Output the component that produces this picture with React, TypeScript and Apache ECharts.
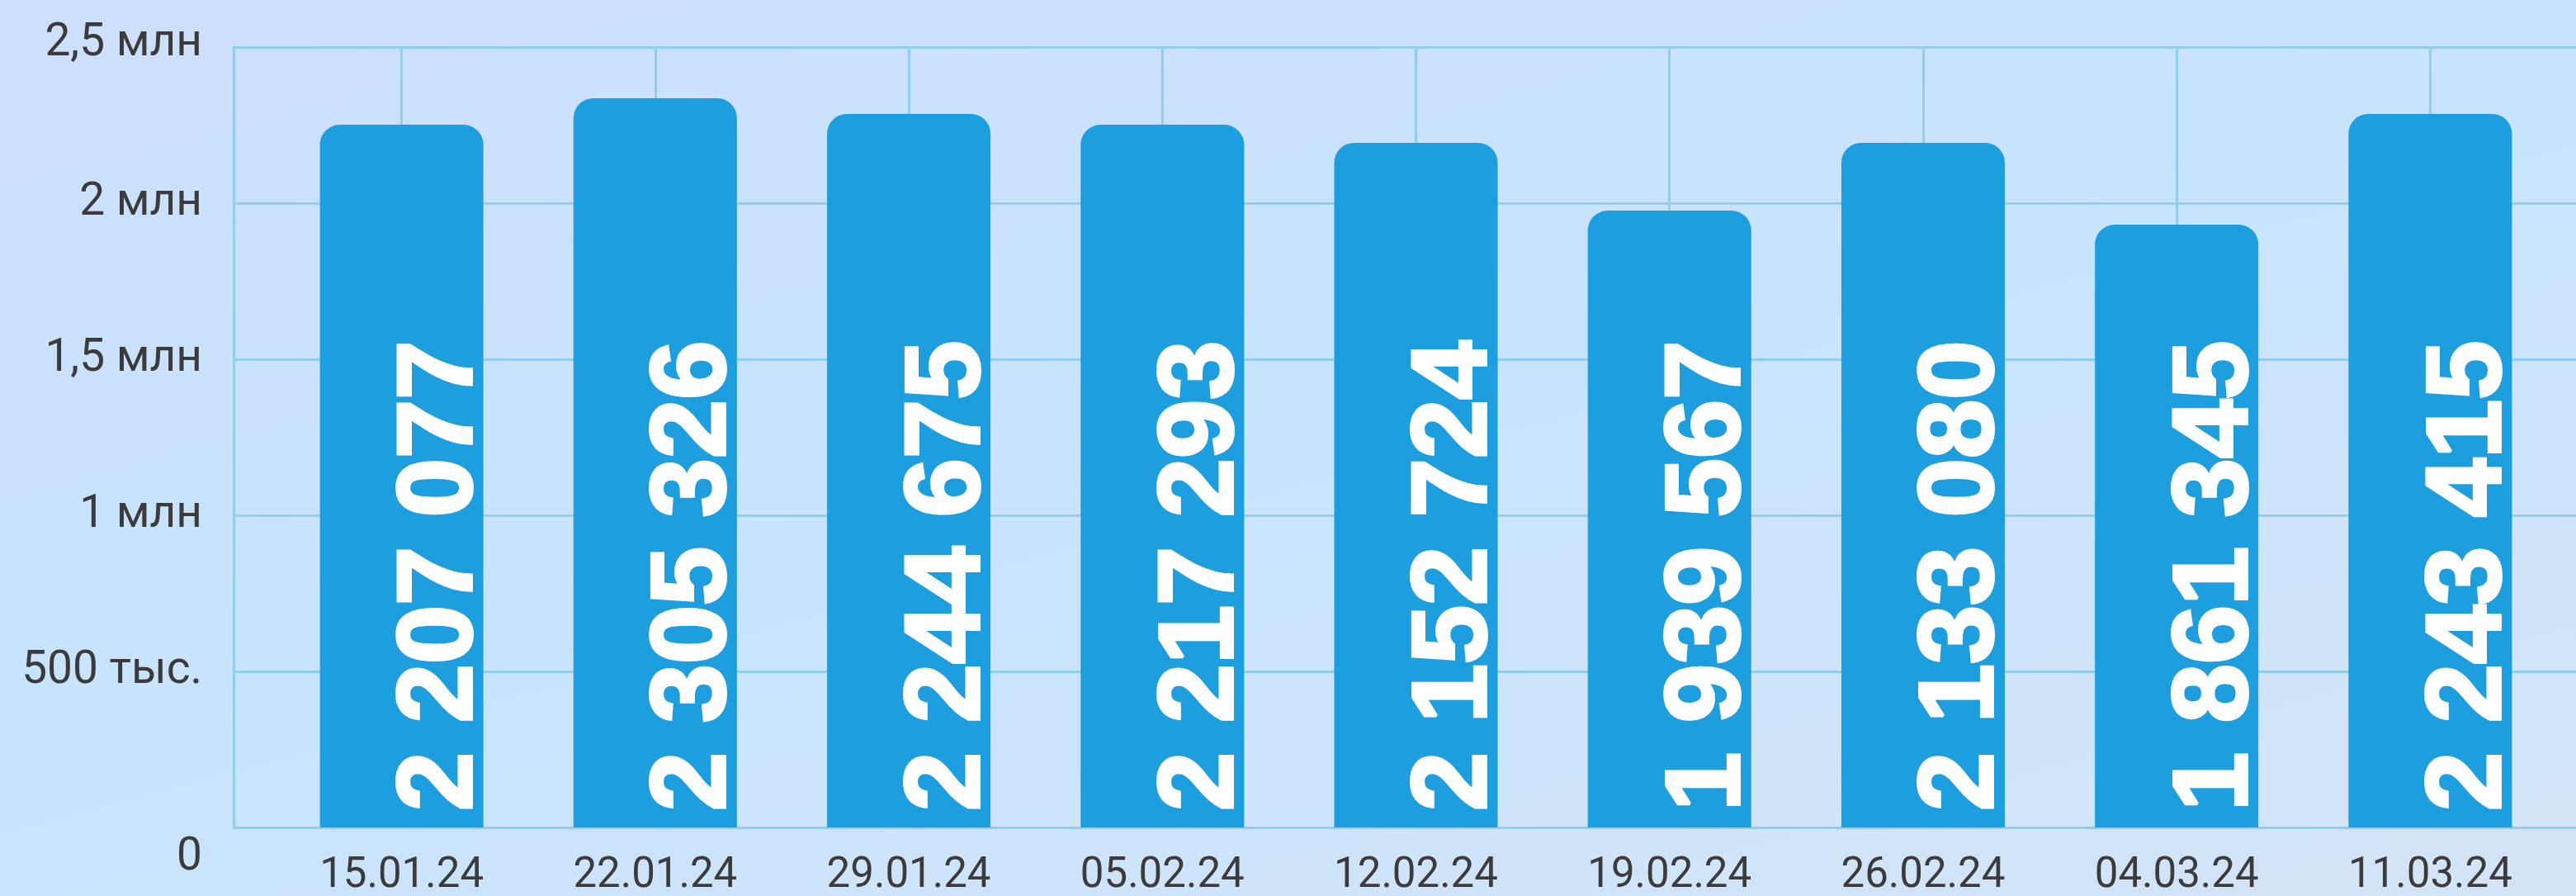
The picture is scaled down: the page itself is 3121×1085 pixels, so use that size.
import React, { useEffect, useRef } from "react";
import * as echarts from "echarts";

const categories = ["15.01.24", "22.01.24", "29.01.24", "05.02.24", "12.02.24", "19.02.24", "26.02.24", "04.03.24", "11.03.24"];
// bar heights
const barValues = [2251000, 2336000, 2286000, 2251000, 2193000, 1976000, 2193000, 1931000, 2286000];
// numbers printed on the bars
const labelValues = [2207077, 2305326, 2244675, 2217293, 2152724, 1939567, 2133080, 1861345, 2243415];
const yMax = 2500000;
const yInterval = 500000;
const yTickLabels: Record<number, string> = {
  0: "0",
  500000: "500 тыс.",
  1000000: "1 млн",
  1500000: "1,5 млн",
  2000000: "2 млн",
  2500000: "2,5 млн",
};

const W = 3121;
const H = 1085;
const FRAME_LEFT = 283;
const TOP = 57;
const BOTTOM = 83;
const BAR_LEFT = 333;
const BAR_RIGHT = 23;

const fmt = (n: number) => String(n).replace(/\B(?=(\d{3})+(?!\d))/g, " ");

export default function App() {
  const ref = useRef<HTMLDivElement>(null);
  useEffect(() => {
    if (!ref.current) return;
    const chart = echarts.init(ref.current, undefined, { renderer: "svg" });
    const band = (W - BAR_LEFT - BAR_RIGHT) / categories.length;
    const gridColor = "#90cdf0";
    const textColor = "#3b3b3b";
    const yFont = 55;
    chart.setOption({
      animation: false,
      backgroundColor: "transparent",
      grid: [
        { left: FRAME_LEFT, right: 0, top: TOP, bottom: BOTTOM },
        { left: BAR_LEFT, right: BAR_RIGHT, top: TOP, bottom: BOTTOM },
        { left: BAR_LEFT + band / 2, right: BAR_RIGHT + band / 2, top: TOP, bottom: BOTTOM },
      ],
      xAxis: [
        { type: "value", gridIndex: 0, show: false },
        {
          type: "category",
          gridIndex: 1,
          data: categories,
          axisLine: { show: false },
          axisTick: { show: false },
          splitLine: { show: false },
          axisLabel: {
            margin: 32,
            lineHeight: 44,
            color: textColor,
            fontSize: 51,
            fontFamily: "Roboto",
          },
        },
        {
          type: "value",
          gridIndex: 2,
          min: 0,
          max: categories.length - 1,
          interval: 1,
          axisLine: { show: false },
          axisTick: { show: false },
          axisLabel: { show: false },
          splitLine: { show: true, lineStyle: { color: gridColor, width: 3 } },
        },
      ],
      yAxis: [
        {
          type: "value",
          gridIndex: 0,
          min: 0,
          max: yMax,
          interval: yInterval,
          axisLine: { show: true, lineStyle: { color: gridColor, width: 3 } },
          axisTick: { show: false },
          splitLine: { show: true, lineStyle: { color: gridColor, width: 3 } },
          axisLabel: {
            margin: 38,
            color: textColor,
            fontSize: yFont,
            fontFamily: "Roboto",
            formatter: (v: number) => {
              const t = yTickLabels[v] ?? String(v);
              if (v === 0) return "{b|" + t + "}";
              if (v === yMax) return "{t|" + t + "}";
              return "{m|" + t + "}";
            },
            rich: {
              b: { fontSize: yFont, fontFamily: "Roboto", color: textColor, padding: [64, 0, 0, 0] },
              t: { fontSize: yFont, fontFamily: "Roboto", color: textColor, padding: [0, 0, 19, 0] },
              m: { fontSize: yFont, fontFamily: "Roboto", color: textColor, padding: [0, 0, 10, 0] },
            },
          },
        },
        { type: "value", gridIndex: 1, min: 0, max: yMax, interval: yInterval, show: false },
        { type: "value", gridIndex: 2, min: 0, max: 1, show: false },
      ],
      series: [
        {
          type: "bar",
          xAxisIndex: 1,
          yAxisIndex: 1,
          data: barValues,
          barWidth: 198,
          z: 3,
          itemStyle: { color: "#1c9edf", borderRadius: [24, 24, 0, 0] },
          label: {
            show: true,
            position: "insideBottom",
            rotate: 90,
            align: "left",
            verticalAlign: "middle",
            distance: 20,
            offset: [0, 40],
            color: "#ffffff",
            textBorderColor: "#ffffff",
            textBorderWidth: 4,
            fontSize: 128,
            fontWeight: "bold",
            fontFamily: "Liberation Sans",
            formatter: (p: any) => fmt(labelValues[p.dataIndex]),
          },
        },
      ],
    });
    return () => chart.dispose();
  }, []);
  return (
    <div
      ref={ref}
      style={{
        position: "fixed",
        left: 0,
        top: 0,
        width: W + "px",
        height: H + "px",
        background: "linear-gradient(165deg, #cddffc 0%, #c8e4fd 50%, #d5e4f7 100%)",
      }}
    />
  );
}
